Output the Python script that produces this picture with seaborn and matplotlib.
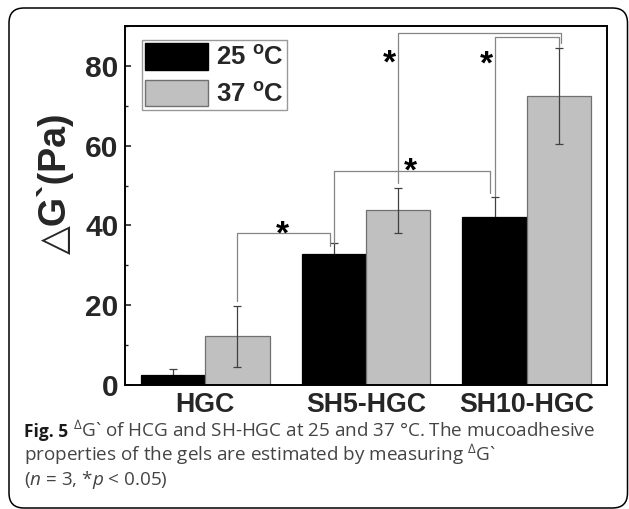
import numpy as np
import pandas as pd
import matplotlib
matplotlib.use("Agg")
import matplotlib.pyplot as plt
import seaborn as sns
from matplotlib.patches import FancyBboxPatch
from matplotlib.ticker import MultipleLocator

# ---------------- data ----------------
groups = ["HGC", "SH5-HGC", "SH10-HGC"]
temps = ["25 $^\\mathregular{o}$C", "37 $^\\mathregular{o}$C"]
mean_25 = [2.4, 32.75, 42.2]
mean_37 = [12.2, 43.75, 72.5]
err_25 = [1.6, 2.75, 5.0]
err_37 = [7.6, 5.7, 12.1]
y_ticks = [0, 20, 40, 60, 80]
# significance brackets: x_left, y_left_end, y_top, x_right, y_right_end
brackets = [
    (0.194, 21.0, 38.0, 0.775, 34.8),
    (0.800, 35.6, 53.6, 1.770, 48.2),
    (1.200, 50.7, 88.2, 2.215, 85.7),
    (1.806, 47.3, 87.2, 2.204, 84.8),
]
stars = [(0.48, 39.8), (1.275, 55.5), (1.144, 82.75), (1.75, 82.5)]

caption_1b = "Fig. 5"
caption_1 = "$^{\\mathregular{\u2206}}$G` of HCG and SH-HGC at 25 and 37 \u00b0C. The mucoadhesive"
caption_2 = "properties of the gels are estimated by measuring $^{\\mathregular{\u2206}}$G`"
caption_3 = "($\\mathit{n}$ = 3, *$\\mathit{p}$ < 0.05)"

df = pd.DataFrame({
    "group": groups * 2,
    "temp": [temps[0]] * 3 + [temps[1]] * 3,
    "value": mean_25 + mean_37,
})

sns.set_style("white")
plt.rcParams["font.family"] = ["Liberation Sans", "DejaVu Sans"]
plt.rcParams["mathtext.fontset"] = "custom"
plt.rcParams["mathtext.it"] = "Open Sans:italic"
plt.rcParams["mathtext.rm"] = "Open Sans"

fig = plt.figure(figsize=(6.29, 5.09), dpi=100)
ax = fig.add_axes([125 / 629, 1 - 385 / 509, (607 - 125) / 629, (385 - 26) / 509])

sns.barplot(data=df, x="group", y="value", hue="temp", order=groups,
            hue_order=temps, palette=["#000000", "#c0c0c0"], errorbar=None,
            width=0.8, ax=ax, legend=True, saturation=1)

edge_cols = ["#000000", "#707070"]
err_z = [0.5, 3]
for cont, errs, ec, z in zip(ax.containers, [err_25, err_37], edge_cols, err_z):
    xs, ys = [], []
    for p in cont:
        p.set_edgecolor(ec)
        p.set_linewidth(0.9)
        p.set_zorder(1)
        xs.append(p.get_x() + p.get_width() / 2)
        ys.append(p.get_height())
    ax.errorbar(xs, ys, yerr=errs, fmt="none", ecolor="#404040",
                elinewidth=0.9, capsize=2.6, capthick=0.9, zorder=z)

for (x1, y1, yt, x2, y2) in brackets:
    ax.plot([x1, x1, x2, x2], [y1, yt, yt, y2], color="#858585", lw=0.9, zorder=4)
for (sx, sy) in stars:
    ax.text(sx, sy - 4.3, "*", ha="center", va="baseline", fontsize=24,
            fontweight="bold", color="black", zorder=5)

ax.set_ylim(0, 90)
ax.set_xlim(-0.5, 2.5)
ax.set_yticks(y_ticks)
ax.yaxis.set_minor_locator(MultipleLocator(10))
ax.set_xlabel("")
ax.set_ylabel("")
for s in ax.spines.values():
    s.set_visible(True)
    s.set_color("black")
    s.set_linewidth(1.4)
ax.tick_params(axis="y", which="major", direction="in", length=4, width=1.2,
               pad=4.5, left=True, labelsize=21.5)
ax.tick_params(axis="y", which="minor", direction="in", length=2.3, width=1.0, left=True)
ax.tick_params(axis="x", which="both", length=0, pad=5, labelsize=19.3)
for lab in ax.get_xticklabels() + ax.get_yticklabels():
    lab.set_fontweight("bold")

handles, labels = ax.get_legend_handles_labels()
leg = ax.legend(handles, labels, loc="upper left", bbox_to_anchor=(17 / 482, 1 - 14 / 359),
                borderaxespad=0, frameon=True, fancybox=False, framealpha=1,
                edgecolor="#999999", prop={"weight": "bold", "size": 18.5},
                handlelength=2.45, handleheight=1.2, handletextpad=0.3,
                labelspacing=0.38, borderpad=0.13)
leg.get_frame().set_linewidth(1.0)
for h in leg.legend_handles:
    h.set_edgecolor("#707070")
leg.legend_handles[0].set_edgecolor("#000000")

fig.text(55 / 629, 1 - 183 / 509, "\u25b3G`(Pa)", rotation=90, ha="center", va="center",
         fontsize=27, fontweight="bold", family=["Liberation Sans", "DejaVu Sans"])

# outer rounded frame
box = FancyBboxPatch((0.09, 0.01), 6.185, 5.0, boxstyle="round,pad=0,rounding_size=0.15",
                     transform=fig.dpi_scale_trans, fill=False, edgecolor="black",
                     linewidth=1.1, zorder=0)
fig.patches.append(box)

# caption
fig.canvas.draw()
r = fig.canvas.get_renderer()
cap_kw = dict(family=["Open Sans", "DejaVu Sans"], va="baseline", ha="left")
x0 = 24 / 629
t1 = fig.text(x0, 1 - 437 / 509, caption_1b, fontweight="bold", color="#1a1a1a",
              fontsize=12.5, **cap_kw)
bb = t1.get_window_extent(r)
fig.text(bb.x1 / fig.bbox.width + 4.5 / 629, 1 - 437 / 509, caption_1, color="#444444",
         fontsize=13.6, **cap_kw)
fig.text(x0, 1 - 461 / 509, caption_2, color="#444444", fontsize=13.6, **cap_kw)
fig.text(x0, 1 - 485 / 509, caption_3, color="#444444", fontsize=13.6, **cap_kw)

fig.savefig("out.png", dpi=100)
